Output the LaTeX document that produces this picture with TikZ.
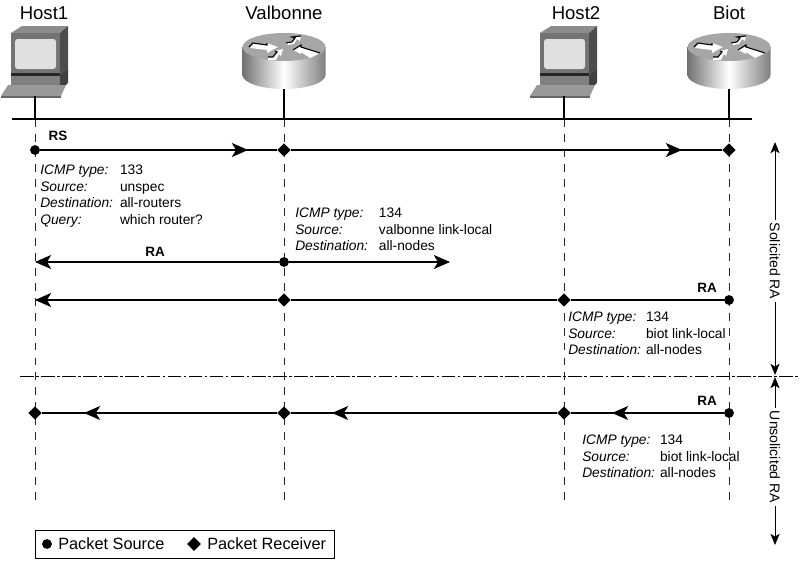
\documentclass[tikz,border=0pt]{standalone}
\usepackage{fontspec}
\setmainfont{Liberation Sans}
\usetikzlibrary{shapes.geometric,arrows.meta,positioning}

\newcommand{\fld}[1]{\textit{#1}}

\tikzset{
    pics/hosticon/.style={code={
        % monitor
        \fill[black!45] (-24,-93) -- (-13,-100) -- (33,-100) -- (25,-93) -- cycle;
        \fill[black!70] (25,-93) -- (33,-100) -- (33,-58) -- (25,-51) -- cycle;
        \fill[black!75] (25,-51) -- (33,-58) -- (33,-43) -- (25,-36) -- cycle;
        \fill[black!55] (-24,-93) rectangle (25,-51);
        \fill[black!12,rounded corners=2pt] (-20,-87) rectangle (21,-57);
        \fill[black!50] (-24,-51) rectangle (25,-41);
        \fill[black!85] (-24,-53) rectangle (25,-50);
        % keyboard
        \fill[black!40] (-27,-41) -- (31,-41) -- (26,-30) -- (-34,-30) -- cycle;
        \fill[black!60] (-34,-30) rectangle (26,-28);
    }},
    pics/routericon/.style={code={
        \shade[left color=black!55,right color=black!50,middle color=white]
            (-41.5,0) -- (-41.5,28) arc[start angle=180,end angle=0,x radius=41.5,y radius=14]
            -- (41.5,0) -- cycle;
        \fill[black!35] (0,0) ellipse[x radius=41.5,y radius=14];
        % arrows on the top face
        \fill[white] (-34,1) -- (-17,3) -- (-17,6) -- (-6,0) -- (-17,-4) -- (-17,-2) -- (-31,-4) -- cycle;
        \fill[white] (2,-4) -- (8,-5) -- (11,-9) -- (8,-10) -- (17,-11) -- (16,-6) -- (13,-8) -- (10,-3) -- (4,-2) -- cycle;
        \fill[white] (9,3) -- (17,-2) -- (17,0) -- (36,6) -- (26,11) -- (17,5) -- (17,7) -- cycle;
        \fill[white] (-16,10) -- (-11,10) -- (-7,5) -- (-9,4) -- (-1,2) -- (-3,9) -- (-5,7) -- (-8,13) -- (-16,13) -- cycle;
        \draw[black,line width=0.8pt] (-35,0) -- (-31,-4) -- (-17,-2) -- (-17,-4);
        \draw[black,line width=0.8pt] (2,-4) -- (8,-5) -- (11,-9) -- (8,-10) -- (17,-11);
        \draw[black,line width=0.8pt] (9,3) -- (17,-2) -- (17,0) -- (36,6);
        \draw[black,line width=0.8pt] (-16,10) -- (-11,10) -- (-7,5) -- (-9,4);
    }}
}

\begin{document}
\begin{tikzpicture}[
        x=0.025cm, y=-0.025cm,
        % styles
        title/.style={font=\fontsize{13.2}{15}\selectfont, inner sep=0pt},
        lbl/.style={font=\fontsize{9.6}{11}\selectfont\bfseries, inner sep=0pt},
        info/.style={anchor=north west, inner sep=0pt, font=\fontsize{9.8}{11.7}\selectfont},
        sidelbl/.style={rotate=-90, inner sep=2pt, font=\fontsize{10}{11}\selectfont},
        source/.style={circle, fill=black, inner sep=0pt, minimum size=7pt},
        receiver/.style={diamond, fill=black, inner sep=0pt, minimum size=9.5pt},
        lan/.style={draw, line width=1.5pt},
        drop/.style={draw, line width=1.1pt},
        guide/.style={draw, line width=0.7pt, black!85, dash pattern=on 5.6pt off 5pt},
        border/.style={draw, line width=0.7pt, dash pattern=on 9.6pt off 1.8pt on 1.8pt off 1.8pt},
        msg/.style={draw, line width=0.8pt},
        tip/.style={msg, -{Stealth[length=11.5pt,width=10pt,inset=3pt]}},
        span/.style={draw, line width=0.7pt, -{Stealth[length=8pt,width=6.5pt,inset=2pt]}}
    ]
    \useasboundingbox (0,0) rectangle (800,561);

    % --- stations ---
    \pic at (35,126) {hosticon};
    \pic at (284,47) {routericon};
    \pic at (564,126) {hosticon};
    \pic at (729,47) {routericon};

    \node[title] (host1) at (44,13) {Host1};
    \node[title] (valbonne) at (284,13) {Valbonne};
    \node[title] (host2) at (576,13) {Host2};
    \node[title] (biot) at (729,13) {Biot};

    % --- network ---
    \coordinate (lanw) at (12,119);
    \coordinate (lane) at (752,119);
    \coordinate (tap1) at (35,119);
    \coordinate (tap2) at (284,119);
    \coordinate (tap3) at (564,119);
    \coordinate (tap4) at (729,119);
    \coordinate (top1) at (35,96);
    \coordinate (top2) at (284,89);
    \coordinate (top3) at (564,96);
    \coordinate (top4) at (729,89);
    \coordinate (end1) at (35,506);
    \coordinate (end2) at (284,506);
    \coordinate (end3) at (564,506);
    \coordinate (end4) at (729,506);
    \path[guide] (tap1) -- (end1);
    \path[guide] (tap2) -- (end2);
    \path[guide] (tap3) -- (end3);
    \path[guide] (tap4) -- (end4);
    \path[drop] (top1) -- (tap1);
    \path[drop] (top2) -- (tap2);
    \path[drop] (top3) -- (tap3);
    \path[drop] (top4) -- (tap4);
    \path[lan] (lanw) -- (lane);

    % --- RS ---
    \node[source] (rssrc) at (35,150) {};
    \node[receiver] (rsval) at (284,150) {};
    \node[receiver] (rsbiot) at (729,150) {};
    \coordinate (rstip1) at (248,150);
    \coordinate (rstip2) at (682,150);
    \path[msg] (rssrc) -- (rsval);
    \path[msg] (rsval) -- (rsbiot);
    \path[tip] (rssrc) -- (rstip1);
    \path[tip] (rsval) -- (rstip2);
    \node[lbl] (rslbl) at (58,136) {RS};
    \node[info] (rsinfo) at (40,163) {\begin{tabular}{@{}p{56.7pt}@{}l@{}}
        \fld{ICMP type:} & 133\\
        \fld{Source:} & unspec\\
        \fld{Destination:} & all-routers\\
        \fld{Query:} & which router?
    \end{tabular}};

    % --- RA from Valbonne ---
    \node[source] (vasrc) at (284,262) {};
    \coordinate (vaw) at (35,262);
    \coordinate (vae) at (450,262);
    \path[tip] (vasrc) -- (vaw);
    \path[tip] (vasrc) -- (vae);
    \node[lbl] (valbl) at (155,252) {RA};
    \node[info] (vainfo) at (295,206) {\begin{tabular}{@{}p{59.5pt}@{}l@{}}
        \fld{ICMP type:} & 134\\
        \fld{Source:} & valbonne link-local\\
        \fld{Destination:} & all-nodes
    \end{tabular}};

    % --- RA from Biot, solicited ---
    \node[source] (basrc) at (729,300) {};
    \node[receiver] (bahost) at (564,300) {};
    \node[receiver] (baval) at (284,300) {};
    \coordinate (baw) at (35,300);
    \path[msg] (basrc) -- (bahost);
    \path[msg] (bahost) -- (baval);
    \path[tip] (baval) -- (baw);
    \node[lbl] (balbl) at (707,288) {RA};
    \node[info] (bainfo) at (568,310) {\begin{tabular}{@{}p{55.3pt}@{}l@{}}
        \fld{ICMP type:} & 134\\
        \fld{Source:} & biot link-local\\
        \fld{Destination:} & all-nodes
    \end{tabular}};

    % --- border ---
    \coordinate (borderw) at (20,376);
    \coordinate (bordere) at (800,376);
    \path[border] (borderw) -- (bordere);

    % --- RA from Biot, unsolicited ---
    \node[source] (ubsrc) at (729,413) {};
    \node[receiver] (ubhost) at (564,413) {};
    \node[receiver] (ubval) at (284,413) {};
    \node[receiver] (ubfar) at (35,413) {};
    \coordinate (ubtip1) at (612,413);
    \coordinate (ubtip2) at (332,413);
    \coordinate (ubtip3) at (84,413);
    \path[msg] (ubsrc) -- (ubhost);
    \path[msg] (ubhost) -- (ubval);
    \path[msg] (ubval) -- (ubfar);
    \path[tip] (ubsrc) -- (ubtip1);
    \path[tip] (ubhost) -- (ubtip2);
    \path[tip] (ubval) -- (ubtip3);
    \node[lbl] (ublbl) at (707,401) {RA};
    \node[info] (ubinfo) at (582,433) {\begin{tabular}{@{}p{55.3pt}@{}l@{}}
        \fld{ICMP type:} & 134\\
        \fld{Source:} & biot link-local\\
        \fld{Destination:} & all-nodes
    \end{tabular}};

    % --- side spans ---
    \node[sidelbl] (solicited) at (775,261) {Solicited RA};
    \node[sidelbl] (unsolicited) at (775,457) {Unsolicited RA};
    \coordinate (soltop) at (775,142);
    \coordinate (solbot) at (775,375);
    \coordinate (unstop) at (775,377);
    \coordinate (unsbot) at (775,545);
    \path[span] (solicited) -- (soltop);
    \path[span] (solicited) -- (solbot);
    \path[span] (unsolicited) -- (unstop);
    \path[span] (unsolicited) -- (unsbot);

    % --- legend ---
    \node[draw, line width=0.7pt, minimum width=299*0.025cm, minimum height=28*0.025cm, anchor=north west, inner sep=0pt] (legend) at (35,530) {};
    \node[source] (keysrc) at (47,544) {};
    \node[receiver, minimum size=10pt] (keyrcv) at (194,544) {};
    \node[info, anchor=west, font=\fontsize{11.6}{13}\selectfont] (keysrctxt) at (58,544) {Packet Source};
    \node[info, anchor=west, font=\fontsize{11.6}{13}\selectfont] (keyrcvtxt) at (207,544) {Packet Receiver};
\end{tikzpicture}
\end{document}
